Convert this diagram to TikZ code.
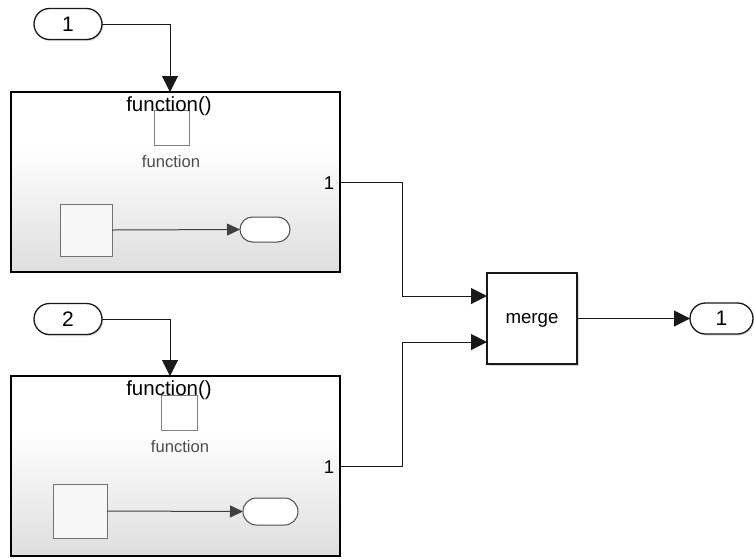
\documentclass[tikz,border=0pt]{standalone}
\usepackage{fontspec}
\setmainfont{Liberation Sans}
\usetikzlibrary{arrows.meta,shadows,calc}
\pgfdeclareverticalshading{subsysshade}{100bp}{color(0bp)=(black!13); color(25bp)=(black!13); color(60bp)=(white); color(100bp)=(white)}
\tikzset{
  every node/.style={inner sep=0pt, outer sep=0pt},
  conn/.style={draw=black!90, line width=1pt},
  arr/.style={-{Triangle[length=16pt,width=16pt]}},
  iarr/.style={-{Triangle[length=13pt,width=12pt]}},
  subsys/.style={draw=black, line width=2.6pt, shading=subsysshade, minimum width=329pt, minimum height=180pt},
  port/.style={draw=black!90, line width=1.3pt, fill=white, rounded corners=15.5pt,
    minimum width=68pt, minimum height=31pt, font=\fontsize{21}{24}\selectfont,
    drop shadow={shadow xshift=1.2pt, shadow yshift=-1.5pt, opacity=0.25, fill=black!60}},
  iport/.style={draw=black!70, line width=1pt, fill=white, rounded corners=12.5pt},
  isq/.style={draw=black!55, line width=1pt, fill=black!3},
  fsq/.style={draw=black!50, line width=1pt},
  mergebox/.style={draw=black!90, line width=1.2pt, fill=white, minimum width=90pt, minimum height=91pt,
    font=\fontsize{18.7}{22}\selectfont, text depth=0pt,
    drop shadow={shadow xshift=1.5pt, shadow yshift=-1.5pt, opacity=0.25, fill=black!60}},
  ftitle/.style={font=\fontsize{20.5}{24}\selectfont, anchor=base},
  fname/.style={font=\fontsize{16.6}{20}\selectfont, text=black!70, anchor=base},
  plabel/.style={font=\fontsize{18.5}{22}\selectfont},
}
\begin{document}
\begin{tikzpicture}[x=1pt,y=-1pt]
\useasboundingbox (0,0) rectangle (754,558);

% ---- top subsystem ----
\node[subsys] (sub1) at (175.5,182) {};
\node[fsq, minimum width=35pt, minimum height=35pt] (fsq1) at (171.5,127.5) {};
\node[ftitle] (ft1) at (169,111) {function()};
\node[fname] (fn1) at (171,167) {function};
\node[plabel] (pl1) at (329,183) {1};
\node[isq, minimum width=52pt, minimum height=52pt] (isq1) at (86,230) {};
\node[iport, minimum width=50pt, minimum height=25pt] (ip1) at (265,229.5) {};
\draw[conn, draw=black!75, iarr] (isq1.east) -- (ip1.west);

% ---- bottom subsystem ----
\node[subsys] (sub2) at (175.5,466) {};
\node[fsq, minimum width=36pt, minimum height=35pt] (fsq2) at (179.5,412.5) {};
\node[ftitle] (ft2) at (169,395) {function()};
\node[fname] (fn2) at (180,452) {function};
\node[plabel] (pl2) at (329,467) {1};
\node[isq, minimum width=54pt, minimum height=54pt] (isq2) at (80,511) {};
\node[iport, minimum width=55pt, minimum height=27pt, rounded corners=13.5pt] (ip2) at (270.5,511.5) {};
\draw[conn, draw=black!75, iarr] (isq2.east) -- (ip2.west);

% ---- inports ----
\node[port] (in1) at (68,24) {1};
\node[port] (in2) at (68,319) {2};
\draw[conn, arr] (in1.east) -| ([xshift=-5.5pt]sub1.north);
\draw[conn, arr] (in2.east) -| ([xshift=-5.5pt]sub2.north);

% ---- merge ----
\node[mergebox] (merge) at (532,318.5) {merge};
\coordinate (m1) at ([yshift=22.5pt]merge.west);
\coordinate (m2) at ([yshift=-23.5pt]merge.west);
\draw[conn, arr] (sub1.east) -- ++(62,0) |- (m1);
\draw[conn, arr] (sub2.east) -- ++(62,0) |- (m2);

% ---- outport ----
\node[port, minimum width=63pt] (out1) at (721.5,318.5) {1};
\draw[conn, arr] (merge.east) -- (out1.west);
\end{tikzpicture}
\end{document}
